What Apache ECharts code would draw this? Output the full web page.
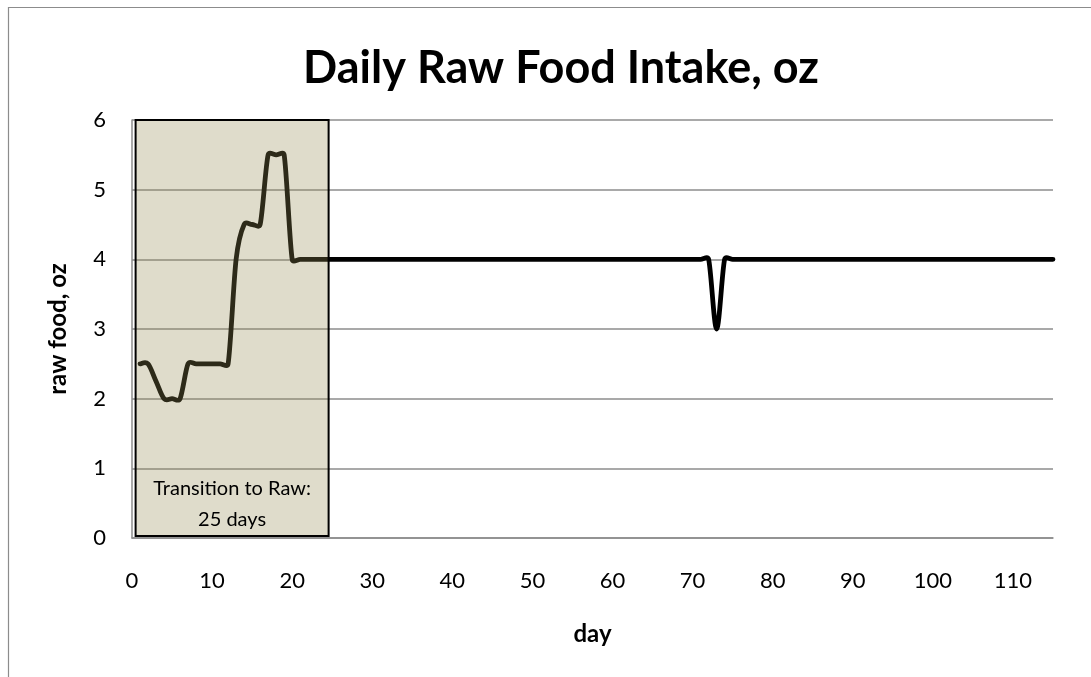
<!DOCTYPE html>
<html>
<head>
<meta charset="utf-8">
<script src="https://cdn.jsdelivr.net/npm/echarts@6/dist/echarts.min.js"></script>
<style>
html,body{margin:0;padding:0;background:#fff;}
#chart{width:1091px;height:677px;}
</style>
</head>
<body>
<div id="chart"></div>
<script>
// ---- data ----
const titleText = 'Daily Raw Food Intake, oz';
const xAxisName = 'day';
const yAxisName = 'raw food, oz';
const firstDay = 1;
// raw food intake (oz) for day 1 .. day 115
const rawFood = [
  2.5, 2.5, 2.25, 2, 2, 2, 2.5, 2.5, 2.5, 2.5,      // 1-10
  2.5, 2.5, 4, 4.5, 4.5, 4.5, 5.5, 5.5, 5.5, 4,     // 11-20
  4, 4, 4, 4, 4, 4, 4, 4, 4, 4,                     // 21-30
  4, 4, 4, 4, 4, 4, 4, 4, 4, 4,                     // 31-40
  4, 4, 4, 4, 4, 4, 4, 4, 4, 4,                     // 41-50
  4, 4, 4, 4, 4, 4, 4, 4, 4, 4,                     // 51-60
  4, 4, 4, 4, 4, 4, 4, 4, 4, 4,                     // 61-70
  4, 4, 3, 4, 4, 4, 4, 4, 4, 4,                     // 71-80
  4, 4, 4, 4, 4, 4, 4, 4, 4, 4,                     // 81-90
  4, 4, 4, 4, 4, 4, 4, 4, 4, 4,                     // 91-100
  4, 4, 4, 4, 4, 4, 4, 4, 4, 4,                     // 101-110
  4, 4, 4, 4, 4                                     // 111-115
];
const transitionLabel = 'Transition to Raw:\n25 days';
const transitionStart = 0.45;
const transitionEnd = 24.55;

// ---- chart ----
const seriesData = rawFood.map((v, i) => [firstDay + i, v]);
const FONT = 'Lato, Carlito, "Open Sans", sans-serif';

// Excel-like smoothed line: bezier through the points (positions from the
// chart's own axes via api.coord), tangent = (next - prev)/6, control arm
// limited to a fraction of the segment length.
function limitArm(dx, dy, maxLen) {
  const len = Math.sqrt(dx * dx + dy * dy);
  if (len > maxLen && len > 0) {
    const s = maxLen / len;
    return [dx * s, dy * s];
  }
  return [dx, dy];
}
function renderSmoothLine(params, api) {
  if (params.dataIndex !== 0) return null;
  const pts = seriesData.map(d => api.coord(d));
  const n = pts.length;
  const K = 0.5;
  let d = 'M' + pts[0][0] + ' ' + pts[0][1];
  for (let i = 0; i < n - 1; i++) {
    const p0 = pts[i - 1] || pts[i];
    const p1 = pts[i];
    const p2 = pts[i + 1];
    const p3 = pts[i + 2] || pts[i + 1];
    const segLen = Math.hypot(p2[0] - p1[0], p2[1] - p1[1]);
    const a1 = limitArm((p2[0] - p0[0]) / 6, (p2[1] - p0[1]) / 6, segLen * K);
    const a2 = limitArm((p3[0] - p1[0]) / 6, (p3[1] - p1[1]) / 6, segLen * K);
    d += ' C' + (p1[0] + a1[0]) + ' ' + (p1[1] + a1[1]) + ' ' +
         (p2[0] - a2[0]) + ' ' + (p2[1] - a2[1]) + ' ' + p2[0] + ' ' + p2[1];
  }
  return {
    type: 'path',
    shape: {pathData: d},
    style: {fill: 'none', stroke: '#000', lineWidth: 4.8, lineCap: 'round', lineJoin: 'round'}
  };
}

const chart = echarts.init(document.getElementById('chart'), null, {renderer: 'canvas'});
chart.setOption({
  animation: false,
  backgroundColor: '#fff',
  title: {
    text: titleText,
    left: 556,
    textAlign: 'center',
    top: 41,
    textStyle: {fontFamily: FONT, fontSize: 45, fontWeight: 'bold', color: '#000'}
  },
  graphic: [{
    type: 'rect',
    shape: {x: 8.5, y: 7.5, width: 1200, height: 800},
    style: {fill: 'none', stroke: '#8c8c8c', lineWidth: 1.2},
    silent: true
  }],
  grid: {left: 132, right: 38, top: 120, bottom: 139, containLabel: false},
  xAxis: {
    type: 'value',
    min: 0, max: 115, interval: 10,
    name: xAxisName,
    nameLocation: 'middle',
    nameGap: 84,
    nameTextStyle: {fontFamily: FONT, fontSize: 24, fontWeight: 'bold', color: '#000'},
    axisLine: {show: true, lineStyle: {color: '#8c8c8c', width: 1.5}},
    axisTick: {show: false},
    splitLine: {show: false},
    axisLabel: {fontFamily: FONT, fontSize: 22, color: '#000', margin: 32, showMaxLabel: false}
  },
  yAxis: {
    type: 'value',
    min: 0, max: 6, interval: 1,
    name: yAxisName,
    nameLocation: 'middle',
    nameGap: 62,
    nameRotate: 90,
    nameTextStyle: {fontFamily: FONT, fontSize: 24, fontWeight: 'bold', color: '#000'},
    axisLine: {show: true, lineStyle: {color: '#8c8c8c', width: 1.5}},
    axisTick: {show: false},
    splitLine: {show: true, lineStyle: {color: '#8c8c8c', width: 1.5}},
    axisLabel: {fontFamily: FONT, fontSize: 22, color: '#000', margin: 26}
  },
  series: [{
    type: 'custom',
    coordinateSystem: 'cartesian2d',
    data: seriesData,
    encode: {x: 0, y: 1},
    renderItem: renderSmoothLine,
    z: 3,
    silent: true
  }, {
    type: 'line',
    data: [],
    z: 10,
    clip: false,
    markArea: {
      silent: true,
      z: 10,
      itemStyle: {color: 'rgba(148,138,84,0.3)', borderColor: '#000', borderWidth: 2},
      label: {
        show: true,
        position: 'insideBottom',
        distance: 2,
        fontFamily: FONT,
        fontSize: 20,
        lineHeight: 31,
        color: '#000',
        align: 'center'
      },
      data: [[
        {name: transitionLabel, xAxis: transitionStart, yAxis: 0.03},
        {xAxis: transitionEnd, yAxis: 6.04}
      ]]
    }
  }]
});
</script>
</body>
</html>
